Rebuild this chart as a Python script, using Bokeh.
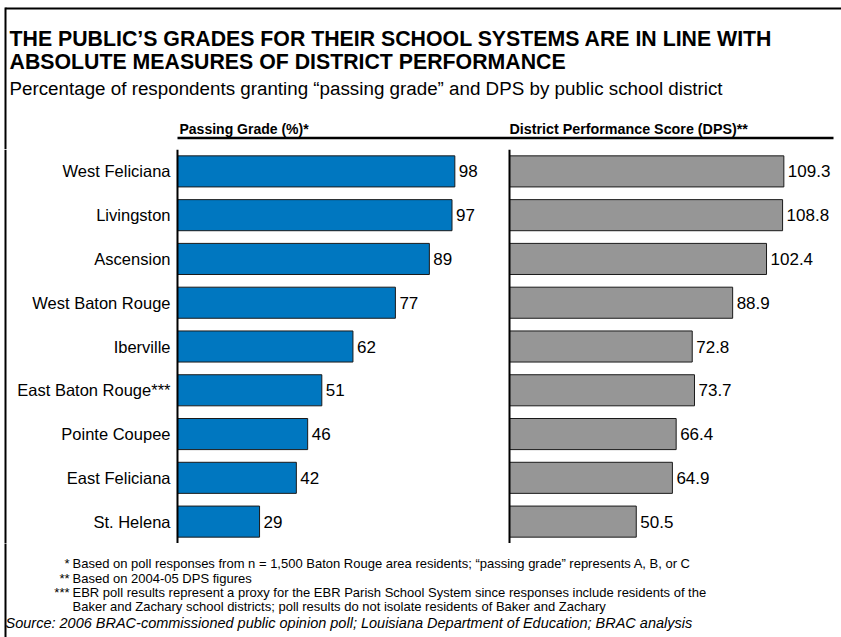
from bokeh.plotting import figure
from bokeh.layouts import column
from bokeh.models import Range1d, FactorRange, Span, Label, ColumnDataSource
from bokeh.core.properties import value
from bokeh.embed import file_html
from bokeh.resources import INLINE

# ---------------- data ----------------
districts = ["West Feliciana", "Livingston", "Ascension", "West Baton Rouge", "Iberville",
             "East Baton Rouge***", "Pointe Coupee", "East Feliciana", "St. Helena"]
passing = [98, 97, 89, 77, 62, 51, 46, 42, 29]
dps = [109.3, 108.8, 102.4, 88.9, 72.8, 73.7, 66.4, 64.9, 50.5]

title_lines = ["THE PUBLIC\u2019S GRADES FOR THEIR SCHOOL SYSTEMS ARE IN LINE WITH",
               "ABSOLUTE MEASURES OF DISTRICT PERFORMANCE"]
subtitle = "Percentage of respondents granting \u201cpassing grade\u201d and DPS by public school district"
header_left = "Passing Grade (%)*"
header_right = "District Performance Score (DPS)**"
footnote_marks = ["*", "**", "***", ""]
footnote_texts = [
    "Based on poll responses from n = 1,500 Baton Rouge area residents; \u201cpassing grade\u201d represents A, B, or C",
    "Based on 2004-05 DPS figures",
    "EBR poll results represent a proxy for the EBR Parish School System since responses include residents of the",
    "Baker and Zachary school districts; poll results do not isolate residents of Baker and Zachary",
]
source_text = "Source: 2006 BRAC-commissioned public opinion poll; Louisiana Department of Education; BRAC analysis"

FONT = "Liberation Sans"
BLUE = "#0077C0"
GREY = "#969696"

W = 841
TOP_H, MID_H, BOT_H = 149, 394, 94
BORDER_X = 5


def blank(height, y_range, x_range):
    f = figure(width=W, height=height, output_backend="svg", toolbar_location=None,
               x_range=x_range, y_range=y_range,
               x_axis_location=None, y_axis_location=None,
               min_border=0, min_border_left=0, min_border_right=0,
               min_border_top=0, min_border_bottom=0)
    f.outline_line_color = None
    f.xgrid.visible = False
    f.ygrid.visible = False
    f.background_fill_color = "white"
    f.border_fill_color = "white"
    return f


def add_label(f, x, y, text, size, style="normal", align="left"):
    f.add_layout(Label(x=x, y=y, text=text, text_font=FONT, text_font_size=size,
                       text_font_style=style, text_align=align, text_baseline="middle",
                       text_color="black"))


# ---------------- header ----------------
top = blank(TOP_H, Range1d(TOP_H, 0), Range1d(0, W))
top.segment(x0=[BORDER_X, BORDER_X], y0=[8, 7], x1=[W, BORDER_X], y1=[8, TOP_H + 1],
            line_color="black", line_width=2)
add_label(top, 9, 38, title_lines[0], "21.3px", "bold")
add_label(top, 9, 61, title_lines[1], "21.3px", "bold")
add_label(top, 9, 88, subtitle, "18.8px")
add_label(top, 179, 128, header_left, "14px", "bold")
add_label(top, 509, 128, header_right, "14.3px", "bold")
top.segment(x0=[177], y0=[137.5], x1=[833], y1=[137.5], line_color="black", line_width=2.5)

# ---------------- bars ----------------
src = ColumnDataSource(dict(
    district=districts,
    passing=passing,
    dps=dps,
    plabel=[str(v) for v in passing],
    dlabel=[f"{v:.1f}" for v in dps],
))

mid = blank(MID_H, FactorRange(factors=list(reversed(districts))), Range1d(-62.54, 234.63))
mid.extra_x_ranges = {"dps": Range1d(-202.79, 132.27), "page": Range1d(0, W)}

mid.add_layout(Span(location=BORDER_X, dimension="height", x_range_name="page",
                    line_color="black", line_width=2))

mid.hbar(y="district", left=0, right="passing", height=0.71, source=src,
         fill_color=BLUE, line_color="#1a1a1a", line_width=1)
mid.hbar(y="district", left=0, right="dps", height=0.71, source=src, x_range_name="dps",
         fill_color=GREY, line_color="#1a1a1a", line_width=1)

# axis lines at zero of each panel
mid.add_layout(Span(location=0, dimension="height", line_color="black", line_width=2))
mid.add_layout(Span(location=0, dimension="height", x_range_name="dps",
                    line_color="black", line_width=2))

# category labels
mid.text(x=0, y="district", text="district", source=src, x_offset=-7,
         text_align="right", text_baseline="middle", text_font=value(FONT),
         text_font_size="16.5px", text_color="black")

# value labels
mid.text(x="passing", y="district", text="plabel", source=src, x_offset=4,
         text_baseline="middle", text_align="left", text_font=value(FONT),
         text_font_size="17px", text_color="black")
mid.text(x="dps", y="district", text="dlabel", source=src, x_offset=4, x_range_name="dps",
         text_baseline="middle", text_align="left", text_font=value(FONT),
         text_font_size="17px", text_color="black")

# ---------------- footer ----------------
Y0 = TOP_H + MID_H
bot = blank(BOT_H, Range1d(Y0 + BOT_H, Y0), Range1d(0, W))
bot.segment(x0=[BORDER_X], y0=[Y0 - 1], x1=[BORDER_X], y1=[Y0 + BOT_H],
            line_color="black", line_width=2)
foot_y = [563, 578, 592, 606]
for mark, txt, yy in zip(footnote_marks, footnote_texts, foot_y):
    if mark:
        add_label(bot, 69, yy, mark, "13px", align="right")
    add_label(bot, 72, yy, txt, "13px")
add_label(bot, 5, 622, source_text, "14.5px", "italic")

layout = column(top, mid, bot, spacing=0)
open("out.html", "w").write(file_html(layout, INLINE))
